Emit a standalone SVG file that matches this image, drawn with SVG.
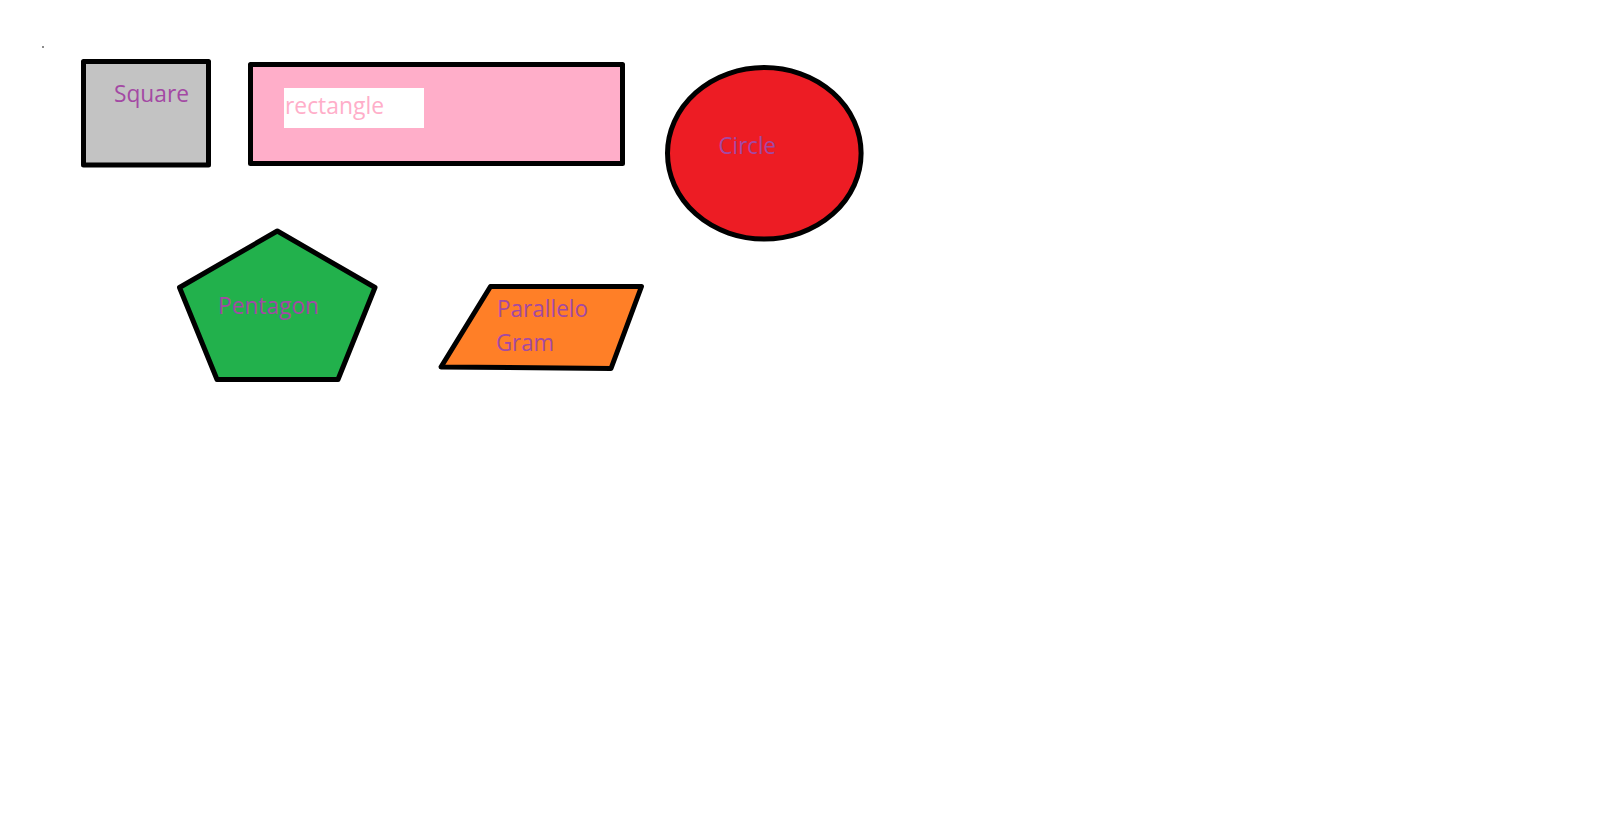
<svg xmlns="http://www.w3.org/2000/svg" width="1613" height="825" viewBox="0 0 1613 825">
<style>
.shape{stroke:#000;stroke-width:5;stroke-linejoin:round}
.lbl{font-family:"Open Sans","Noto Sans","DejaVu Sans",sans-serif;font-size:24px;fill:#a349a4}
</style>
<rect width="1613" height="825" fill="#fff"/>
<rect x="42" y="46" width="2" height="2" fill="#8c8c8c"/>
<g id="square">
<rect class="shape" x="83.5" y="61.5" width="125" height="103.5" fill="#c3c3c3" stroke-linejoin="miter"/>
<text class="lbl" x="114" y="102" textLength="75" lengthAdjust="spacingAndGlyphs">Square</text>
</g>
<g id="rectangle">
<rect class="shape" x="250.5" y="64.5" width="372" height="99" fill="#ffaec9" stroke-linejoin="miter"/>
<rect x="284" y="88" width="140" height="40" fill="#fff"/>
<text class="lbl" x="285" y="114" textLength="99" lengthAdjust="spacingAndGlyphs" style="fill:#ffaec9">rectangle</text>
</g>
<g id="circle">
<ellipse class="shape" cx="764.3" cy="153.3" rx="96.8" ry="85.8" fill="#ed1c24"/>
<text class="lbl" x="718.5" y="154" textLength="57.5" lengthAdjust="spacingAndGlyphs">Circle</text>
</g>
<g id="pentagon">
<polygon class="shape" points="277.3,231 375,287.5 338,379.5 217,379.5 179.5,287.5" fill="#22b14c"/>
<text class="lbl" x="218" y="313.5" textLength="101" lengthAdjust="spacingAndGlyphs">Pentagon</text>
</g>
<g id="parallelogram">
<polygon class="shape" points="490.5,286.5 641.5,286.5 611,368.5 441,367" fill="#ff7f27"/>
<text class="lbl" x="497" y="317" textLength="91" lengthAdjust="spacingAndGlyphs">Parallelo</text>
<text class="lbl" x="496" y="351" textLength="58" lengthAdjust="spacingAndGlyphs">Gram</text>
</g>
<g id="connectors"/>
</svg>
